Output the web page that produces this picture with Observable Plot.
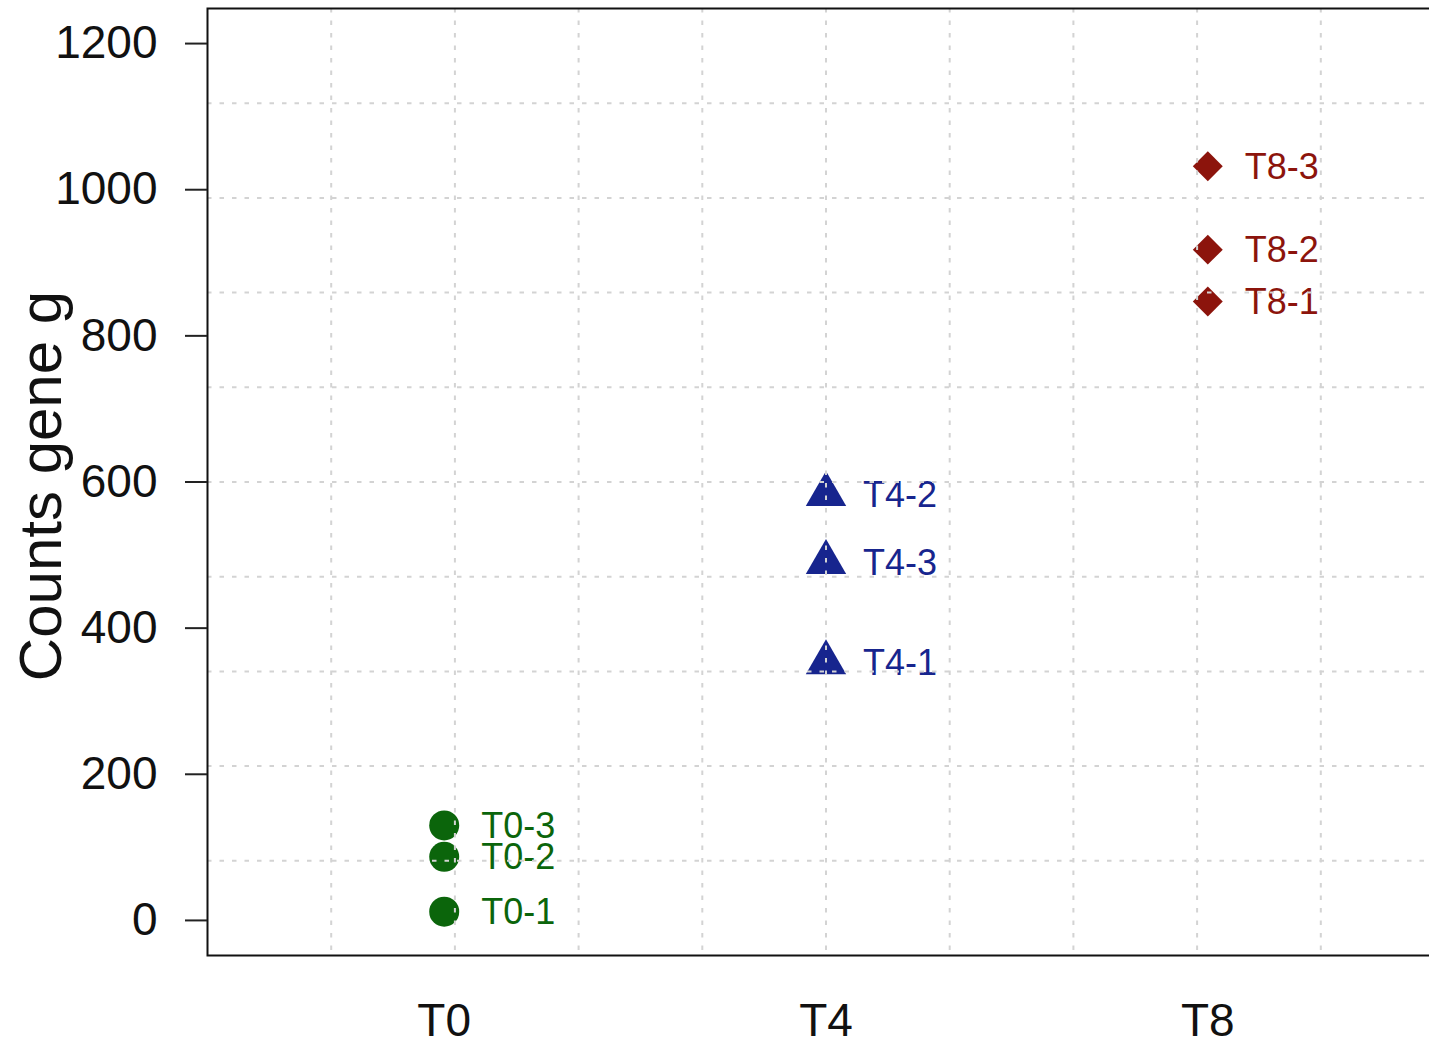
<!DOCTYPE html>
<html><head><meta charset="utf-8">
<script src="https://cdn.jsdelivr.net/npm/d3@7"></script>
<script src="https://cdn.jsdelivr.net/npm/@observablehq/plot@0.6"></script>
<style>
body{margin:0;background:#fff}
#chart{width:1429px;height:1043px;overflow:hidden}
#chart svg{max-width:none !important}
</style>
</head><body><div id="chart"></div>
<script>
const groups = ["T0", "T4", "T8"];
const sampleLabels = ["T0-1", "T0-2", "T0-3", "T4-1", "T4-2", "T4-3", "T8-1", "T8-2", "T8-3"];
const sampleGroups = ["T0", "T0", "T0", "T4", "T4", "T4", "T8", "T8", "T8"];
const counts = [12, 87, 130, 353, 583, 490, 847, 918, 1032];
const yTicks = [0, 200, 400, 600, 800, 1000, 1200];
const yTitle = "Counts gene g";
const xLim = [0.5, 3.5];
const yLim = [0, 1200];

const groupColors = ["#0b650b", "#17258e", "#8c140c"];
const groupSymbols = ["circle", "triangle", "diamond2"];
const groupRadii = [15, 15, 13.5];

// R-style 4% axis extension
const ext = (l) => [l[0] - 0.04 * (l[1] - l[0]), l[1] + 0.04 * (l[1] - l[0])];
const xDomain = ext(xLim);
const yDomain = ext(yLim);
// grid(10, 10): equal cells over plot region
const cells = (d) => d3.range(1, 10).map(k => d[0] + k * (d[1] - d[0]) / 10);
const xGrid = cells(xDomain);
const yGrid = cells(yDomain);

const rows = sampleLabels.map((s, i) => ({
  sample: s,
  group: sampleGroups[i],
  pos: groups.indexOf(sampleGroups[i]) + 1,
  count: counts[i]
}));

const font = "'Liberation Sans', Arial, Helvetica, sans-serif";
const marks = [];
groups.forEach((g, i) => {
  const sub = rows.filter(d => d.group === g);
  marks.push(Plot.dot(sub, {x: "pos", y: "count", symbol: groupSymbols[i], r: groupRadii[i], fill: groupColors[i], stroke: "none"}));
  marks.push(Plot.text(sub, {x: "pos", y: "count", text: "sample", dx: 37, dy: 1, textAnchor: "start", fill: groupColors[i], fontSize: 36}));
});
marks.push(Plot.ruleX(xGrid, {stroke: "#d3d3d3", strokeWidth: 2, strokeDasharray: "4.5,8"}));
marks.push(Plot.ruleY(yGrid, {stroke: "#d3d3d3", strokeWidth: 2, strokeDasharray: "4.5,8"}));
marks.push(Plot.frame({stroke: "#111", strokeWidth: 2}));
marks.push(Plot.axisY({ticks: yTicks, tickFormat: d => String(d), tickSize: 22, tickPadding: 28, fontSize: 46, strokeWidth: 2, stroke: "#222", label: null}));
marks.push(Plot.axisX({ticks: [1, 2, 3], tickFormat: d => groups[d - 1], tickSize: 0, tickPadding: 48, fontSize: 46, label: null}));
marks.push(Plot.text([yTitle], {text: d => d, frameAnchor: "left", dx: -166, dy: 4, rotate: -90, fontSize: 60, textAnchor: "middle", fill: "#111"}));

const plot = Plot.plot({
  width: 1444, height: 1043,
  marginLeft: 207, marginRight: 0, marginTop: 8, marginBottom: 88,
  style: {fontFamily: font, fontSize: "46px", background: "#fff", color: "#111", maxWidth: "none"},
  x: {domain: xDomain},
  y: {domain: yDomain},
  marks
});
document.getElementById("chart").appendChild(plot);
</script>
</body></html>
